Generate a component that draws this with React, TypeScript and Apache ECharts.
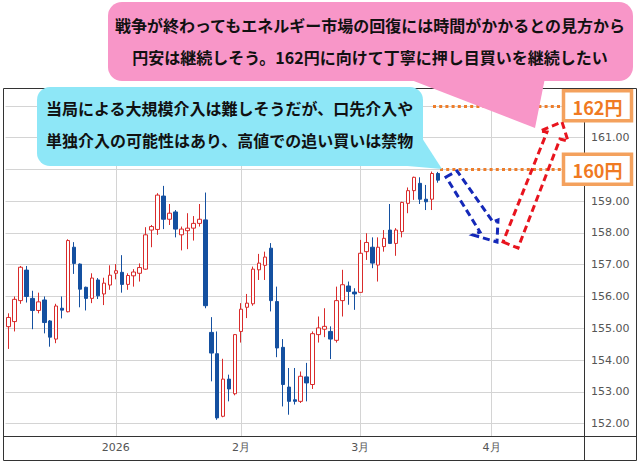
import React, { useEffect, useRef } from "react";
import * as echarts from "echarts";

// OHLC (USD/JPY daily), Dec 8 2025 .. Mar 19 2026
const opens = [
  155.05, 155.21, 155.87, 156.83, 155.94, 155.56, 155.89, 155.23, 154.66, 155.63,
  155.52, 157.55, 157.02, 156.29, 155.94, 156.52, 156.08, 156.36, 156.73, 156.76,
  156.38, 156.65, 156.73, 156.86, 158.09, 158.11, 159.16, 158.43, 158.66, 157.94,
  158.07, 158.15, 158.3, 158.41, 154.87, 154.2, 152.23, 153.4, 152.94, 154.9,
  155.66, 155.77, 156.84, 156.98, 157.52, 155.84, 154.4, 153.15, 152.75, 152.7,
  153.47, 153.23, 154.8, 154.97, 154.9, 154.62, 155.87, 156.33, 156.14, 156.13,
  157.41, 157.55, 156.99, 157.57, 158.09, 157.67, 158.04, 158.93, 159.33, 159.56,
  159.06, 159.06, 159.87,
];
const closes = [
  155.34, 155.91, 156.92, 156.0, 155.56, 155.83, 155.18, 154.72, 155.7, 155.57,
  157.76, 157.04, 156.23, 155.94, 156.58, 156.02, 156.42, 156.67, 156.81, 156.38,
  156.66, 156.77, 156.91, 157.94, 158.2, 159.19, 158.43, 158.62, 158.12, 158.12,
  158.15, 158.3, 158.43, 155.71, 154.22, 152.18, 153.4, 153.09, 154.8, 155.6,
  155.79, 156.86, 157.05, 157.24, 155.87, 154.38, 153.23, 152.7, 152.7, 153.49,
  153.28, 154.83, 155.01, 155.06, 154.66, 155.87, 156.37, 156.16, 156.08, 157.36,
  157.7, 157.05, 157.55, 157.83, 157.67, 158.09, 158.96, 159.33, 159.75, 159.06,
  158.98, 159.87, 159.66,
];
const lows = [
  154.35, 154.9, 155.77, 155.81, 154.97, 155.47, 154.84, 154.42, 154.53, 155.31,
  155.5, 156.71, 155.66, 155.56, 155.79, 155.92, 155.73, 156.21, 156.54, 156.12,
  156.21, 156.31, 156.47, 156.84, 157.55, 157.94, 158.12, 158.25, 157.86, 157.45,
  157.49, 157.76, 158.2, 155.63, 153.33, 152.12, 152.2, 152.7, 152.89, 154.55,
  155.32, 155.71, 156.52, 156.52, 155.53, 154.09, 152.54, 152.28, 152.6, 152.65,
  152.7, 153.09, 154.55, 154.72, 154.03, 154.55, 155.37, 155.74, 155.58, 156.13,
  157.15, 156.89, 156.47, 157.41, 157.65, 157.28, 157.86, 158.62, 159.04, 158.91,
  158.72, 158.72, 159.58,
];
const highs = [
  155.47, 156.0, 156.96, 156.96, 156.18, 156.12, 156.0, 155.26, 155.77, 156.0,
  157.8, 157.71, 157.04, 156.31, 156.73, 156.58, 156.59, 156.98, 157.02, 157.3,
  156.73, 156.86, 157.04, 158.18, 158.25, 159.25, 159.48, 158.91, 158.72, 158.2,
  158.62, 158.53, 158.91, 159.27, 155.35, 154.9, 154.04, 153.54, 154.82, 155.79,
  156.08, 156.94, 157.34, 157.41, 157.68, 156.31, 154.66, 153.75, 153.75, 153.64,
  153.91, 154.9, 155.37, 155.63, 155.06, 156.31, 156.84, 156.47, 156.26, 157.78,
  157.99, 157.86, 157.86, 158.09, 158.91, 158.15, 158.98, 159.43, 159.77, 159.75,
  159.51, 159.93, 159.92,
];

const monthTickLabels: Record<string, string> = { "01": "2026", "02": "2月", "03": "3月", "04": "4月" };
// y tick labels visible in the reference (160 and 162 are hidden behind the price boxes)
const yTickValues = [152, 153, 154, 155, 156, 157, 158, 159, 161];
const targetLevels = [162, 160];
const targetLabels = ["162円", "160円"];
const pinkLines = [
  "戦争が終わってもエネルギー市場の回復には時間がかかるとの見方から",
  "円安は継続しそう。162円に向けて丁寧に押し目買いを継続したい",
];
const cyanLines = [
  "当局による大規模介入は難しそうだが、口先介入や",
  "単独介入の可能性はあり、高値での追い買いは禁物",
];

const SLOT_COUNT = 97;
const HOLIDAYS = ["2026-01-01"];

function buildDates(): string[] {
  const out: string[] = [];
  const d = new Date(Date.UTC(2025, 11, 8));
  while (out.length < SLOT_COUNT) {
    const dow = d.getUTCDay();
    const s = d.toISOString().slice(0, 10);
    if (dow !== 0 && dow !== 6 && HOLIDAYS.indexOf(s) < 0) out.push(s);
    d.setUTCDate(d.getUTCDate() + 1);
  }
  return out;
}

const JP = '"Noto Sans CJK JP", "Noto Sans", sans-serif';

export default function App() {
  const ref = useRef<HTMLDivElement>(null);
  useEffect(() => {
    if (!ref.current) return;
    const chart = echarts.init(ref.current, undefined, { renderer: "svg" });
    const dates = buildDates();
    const monthStarts: number[] = [];
    for (let i = 1; i < dates.length; i++) {
      if (dates[i].slice(5, 7) !== dates[i - 1].slice(5, 7)) monthStarts.push(i);
    }
    const candleData = opens.map((o, i) => [o, closes[i], lows[i], highs[i]]);

    const option: any = {
      animation: false,
      backgroundColor: "#ffffff",
      grid: { left: 5.5, right: 56, top: 88, bottom: 27 },
      xAxis: {
        type: "category",
        data: dates,
        boundaryGap: true,
        axisLine: { show: false },
        axisTick: { show: false },
        splitLine: { show: false },
        axisLabel: {
          interval: (idx: number) => monthStarts.indexOf(idx) >= 0,
          formatter: (v: string) => monthTickLabels[v.slice(5, 7)] || "",
          color: "#555",
          fontSize: 11,
          fontFamily: "DejaVu Sans",
          margin: 6,
        },
      },
      yAxis: {
        type: "value",
        position: "right",
        min: 151.61,
        max: 162.56,
        splitNumber: 11,
        axisLine: { show: false },
        axisTick: { show: false },
        splitLine: { show: true, lineStyle: { color: "#d4d4d4", width: 1 } },
        axisLabel: {
          formatter: (v: number) => (yTickValues.indexOf(Math.round(v * 100) / 100) >= 0 ? v.toFixed(2) : ""),
          showMinLabel: false,
          showMaxLabel: false,
          color: "#555",
          fontSize: 11,
          fontFamily: "DejaVu Sans",
          margin: 7,
        },
      },
      series: [
        {
          type: "line",
          data: [],
          z: 1,
          markLine: {
            silent: true,
            z: 1,
            symbol: ["none", "none"],
            label: { show: false },
            lineStyle: { color: "#d4d4d4", width: 1, type: "solid" },
            data: monthStarts.map((i) => ({ xAxis: dates[i] })),
          },
        },
        {
          type: "candlestick",
          data: candleData,
          barWidth: 4,
          z: 3,
          itemStyle: {
            color: "#ffffff",
            color0: "#1450a0",
            borderColor: "#d92b2b",
            borderColor0: "#1450a0",
            borderWidth: 1,
          },
        },
      ],
      graphic: [],
    };
    chart.setOption(option);

    const yPix = (v: number) => chart.convertToPixel({ yAxisIndex: 0 }, v) as number;

    const g: any[] = [];
    // frame
    g.push({ type: "rect", z: 5, shape: { x: 3.5, y: 88.5, width: 633, height: 372 }, style: { fill: "none", stroke: "#333", lineWidth: 1 } });
    g.push({ type: "line", z: 5, shape: { x1: 584.5, y1: 88, x2: 584.5, y2: 461 }, style: { stroke: "#333", lineWidth: 1 } });
    g.push({ type: "line", z: 5, shape: { x1: 3, y1: 436.5, x2: 637, y2: 436.5 }, style: { stroke: "#333", lineWidth: 1 } });

    // dotted target lines
    const dotStart = [433, 440];
    targetLevels.forEach((lv, i) => {
      const y = Math.round(yPix(lv)) + 0.5;
      g.push({ type: "line", z: 20, shape: { x1: dotStart[i], y1: y, x2: 562, y2: y }, style: { stroke: "#ee7d2a", lineWidth: 3, lineDash: [3, 3.2] } });
    });

    // pink callout
    g.push({ type: "polygon", z: 30, shape: { points: [[406, 78], [545, 78], [535, 128]] }, style: { fill: "#f896c8" } });
    g.push({ type: "rect", z: 30, shape: { x: 108, y: 2, width: 525, height: 79, r: 14 }, style: { fill: "#f896c8" } });
    pinkLines.forEach((t, i) => {
      g.push({ type: "text", z: 31, style: { text: t, x: 370, y: 25 + i * 32, fill: "#111", font: `bold 16px ${JP}`, align: "center", verticalAlign: "middle" } });
    });

    // cyan callout
    g.push({ type: "polygon", z: 30, shape: { points: [[396, 165], [422, 138], [442, 169]] }, style: { fill: "#8ee7f7" } });
    g.push({ type: "rect", z: 30, shape: { x: 37, y: 87, width: 386, height: 79, r: 13 }, style: { fill: "#8ee7f7" } });
    cyanLines.forEach((t, i) => {
      g.push({ type: "text", z: 31, style: { text: t, x: 46, y: 108 + i * 32, fill: "#111", font: `bold 16px ${JP}`, align: "left", verticalAlign: "middle" } });
    });

    // target label boxes
    targetLevels.forEach((lv, i) => {
      const y = yPix(lv);
      g.push({ type: "rect", z: 32, shape: { x: 563.5, y: y - 15, width: 68, height: 30 }, style: { fill: "#fff", stroke: "#f4a15d", lineWidth: 3.5 } });
      g.push({ type: "text", z: 33, style: { text: targetLabels[i], x: 597.5, y: y + 1, fill: "#f07a22", font: `bold 18px ${JP}`, align: "center", verticalAlign: "middle" } });
    });

    // arrows
    g.push({
      type: "polygon", z: 34,
      shape: { points: [[446, 177], [457, 171], [493, 222], [498, 220], [497, 242], [473, 235], [480, 232]] },
      style: { fill: "none", stroke: "#1428b8", lineWidth: 3, lineDash: [7, 4] },
    });
    g.push({
      type: "polygon", z: 34,
      shape: { points: [[503, 242], [518, 248], [560, 139], [568, 141], [562, 122], [540, 131], [547, 132]] },
      style: { fill: "none", stroke: "#e8141e", lineWidth: 3, lineDash: [7, 4] },
    });

    chart.setOption({ graphic: g });
    return () => chart.dispose();
  }, []);
  return <div ref={ref} style={{ position: "fixed", left: 0, top: 0, width: 640, height: 463 }} />;
}
